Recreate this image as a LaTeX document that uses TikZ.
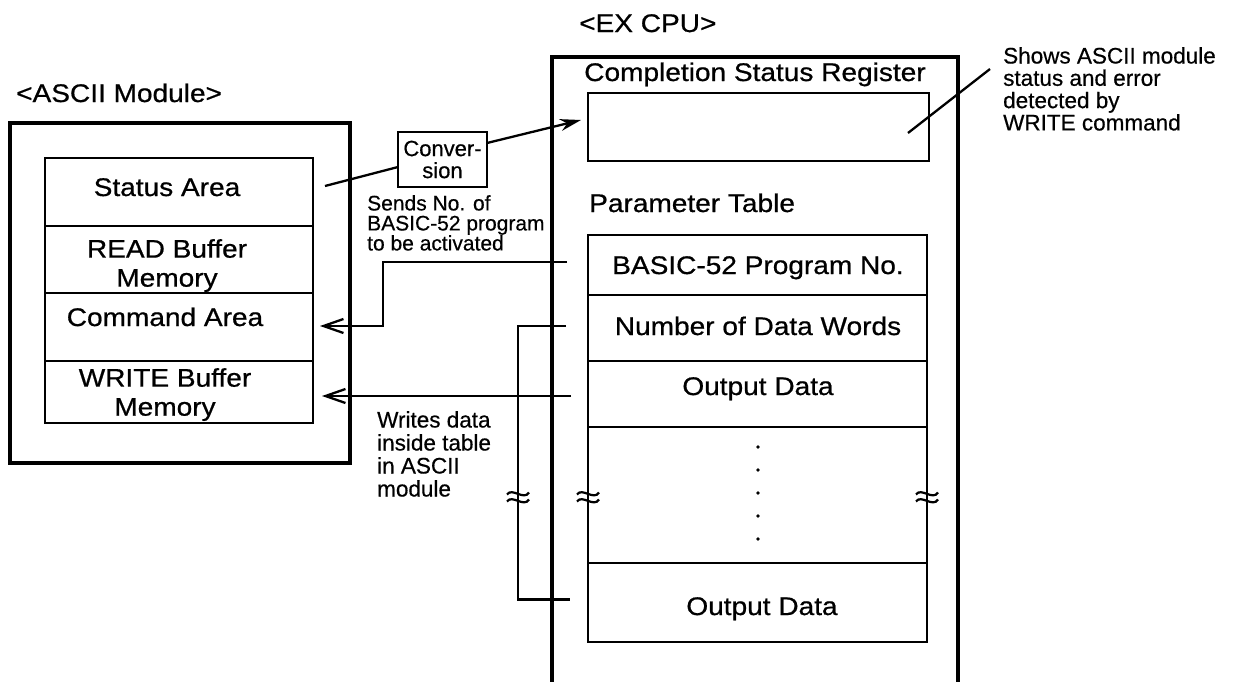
\documentclass[tikz,border=0pt]{standalone}
\usepackage{fontspec}
\setmainfont{Liberation Sans}[FakeBold=0.5]
\newfontfamily\widesans{Liberation Sans}[FakeStretch=1.1,FakeBold=0.7]
\usetikzlibrary{arrows.meta}

\tikzset{
  frame/.style={draw, line width=3.6pt, inner sep=0pt, outer sep=0pt},
  cell/.style={draw, line width=2.6pt, inner sep=0pt, outer sep=0pt},
  bigtxt/.style={font=\widesans\fontsize{25.5pt}{29pt}\selectfont, inner sep=0pt},
  smalltxt/.style={font=\fontsize{22.5pt}{22.5pt}\selectfont, inner sep=0pt, align=left},
  conn/.style={line width=2.3pt},
  barb/.style={-{Straight Barb[length=20pt,width=14pt]}},
  solidtip/.style={-{Stealth[length=21pt,width=12pt]}},
  apx/.pic={
    \draw[line width=2.2pt] (-11,-2.5) .. controls (-6,-10) and (6,4) .. (11,-4.5);
    \draw[line width=2.2pt] (-11,4.5) .. controls (-6,-3) and (6,11) .. (11,2.5);
  }
}

\begin{document}
\begin{tikzpicture}[x=1pt,y=-1pt]
\path[use as bounding box, clip] (0,0) rectangle (1235,681);

% ---------------- ASCII module ----------------
\node[frame, minimum width=340pt, minimum height=340pt] (am) at (180,293) {};
\node[bigtxt, anchor=base west] (amt) at (16,102) {<ASCII Module>};

\node[cell, minimum width=268pt, minimum height=68pt] (stat)  at (179,192)   {};
\node[cell, minimum width=268pt, minimum height=67pt] (read)  at (179,259.5) {};
\node[cell, minimum width=268pt, minimum height=68pt] (cmd)   at (179,327)   {};
\node[cell, minimum width=268pt, minimum height=62pt] (write) at (179,392)   {};

\node[bigtxt, anchor=base] (statt) at (167,196) {Status Area};
\node[bigtxt, anchor=north, align=center] (readt) at (167,239) {READ Buffer\\Memory};
\node[bigtxt, anchor=base] (cmdt) at (165,326) {Command Area};
\node[bigtxt, anchor=north, align=center] (writet) at (165,368) {WRITE Buffer\\Memory};

% ---------------- conversion ----------------
\node[cell, line width=2.3pt, minimum width=89pt, minimum height=55pt,
      font=\fontsize{22pt}{22pt}\selectfont, align=center] (conv) at (442.5,159.5) {Conver-\\sion};
\node[smalltxt, font=\fontsize{21pt}{20pt}\selectfont, anchor=north west] (sends) at (367,195)
  {Sends No. of\\BASIC-52 program\\to be activated};

% ---------------- EX CPU ----------------
\node[frame, minimum width=406pt, minimum height=680pt, anchor=north] (cpu) at (755,57) {};
\node[bigtxt, anchor=base west] (cput) at (579,32) {<EX CPU>};
\node[bigtxt, anchor=base] (csrt) at (755,81) {Completion Status Register};
\node[cell, minimum width=341pt, minimum height=68pt] (reg) at (758.5,127) {};

\node[bigtxt, anchor=base west] (ptt) at (589,212) {Parameter Table};
\node[cell, minimum width=339pt, minimum height=60pt]  (basic) at (757.5,265)   {};
\node[cell, minimum width=339pt, minimum height=66pt]  (ndw)   at (757.5,328)   {};
\node[cell, minimum width=339pt, minimum height=66pt]  (od1)   at (757.5,394)   {};
\node[cell, minimum width=339pt, minimum height=136pt] (gap)   at (757.5,495)   {};
\node[cell, minimum width=339pt, minimum height=79pt]  (od2)   at (757.5,602.5) {};

\node[bigtxt, anchor=base] (basict) at (758,274) {BASIC-52 Program No.};
\node[bigtxt, anchor=base] (ndwt)   at (758,335) {Number of Data Words};
\node[bigtxt, anchor=base] (od1t)   at (758,395) {Output Data};
\node[bigtxt, anchor=base] (od2t)   at (762,615) {Output Data};

\foreach \yy in {447,470,493,516,539} \fill (758,\yy) circle (1.9pt);

% ---------------- notes ----------------
\node[smalltxt, font=\fontsize{22.5pt}{22.3pt}\selectfont, anchor=north west] (note) at (1003,47)
  {Shows ASCII module\\status and error\\detected by\\WRITE command};
\node[smalltxt, font=\fontsize{22.5pt}{23pt}\selectfont, anchor=north west] (wdt) at (377,411)
  {Writes data\\inside table\\in ASCII\\module};

% ---------------- connectors ----------------
\coordinate (sa) at (325,186);
\draw[conn] (sa) -- ([yshift=-7.5pt]conv.west);
\draw[conn, solidtip] ([yshift=16.5pt]conv.east) -- ([xshift=-7pt,yshift=7pt]reg.west);

\coordinate (n0) at (908,133);
\coordinate (n1) at (990,69);
\draw[conn] (n0) -- (n1);

\draw[conn, barb] ([xshift=-21pt,yshift=3pt]basic.west) -- ++(-184,0) |- ([xshift=7pt,yshift=1pt]cmd.east);

\coordinate (w0) at ([xshift=-17pt,yshift=-2pt]od1.west);
\draw[conn, barb, shorten >=9pt] (w0) -- (w0 -| write.east);

\draw[conn] ([xshift=-22pt,yshift=2pt]ndw.west) -- ++(-48,0) |- ([xshift=-18pt,yshift=3pt]od2.west);

% break marks
\pic at (518,497) {apx};
\pic at (588,497) {apx};
\pic at (927,497) {apx};
\end{tikzpicture}
\end{document}
